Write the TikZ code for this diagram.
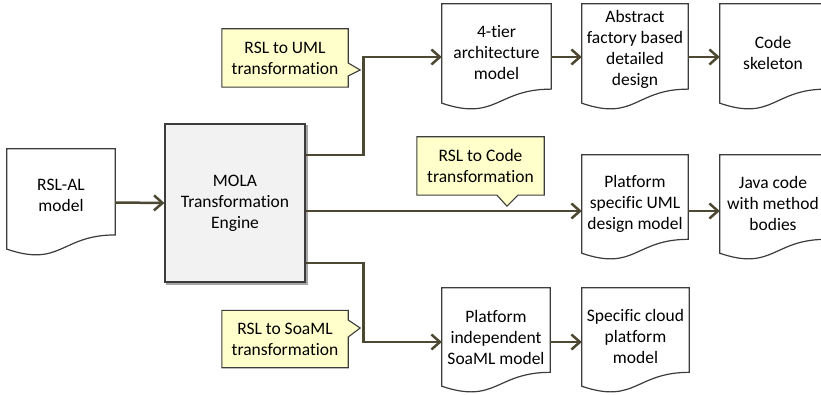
\documentclass[tikz,border=0pt]{standalone}
\usepackage{fontspec}
\setmainfont{Carlito}[Ligatures=NoCommon]
\usetikzlibrary{arrows.meta,calc,backgrounds}
\definecolor{conncol}{HTML}{4D4832}
\definecolor{bordercol}{HTML}{3C3C3C}
\definecolor{shadowcol}{HTML}{A6A6A6}
\definecolor{molafill}{HTML}{F2F2F2}
\definecolor{notefill}{HTML}{FFFFCC}

\newcommand\docpath[1]{let \p1=(#1.north west), \p2=(#1.south east), \n1={\y1-\y2}, \n2={\x2-\x1} in (\x1,\y1) -- (\x2,\y1) -- (\x2,\y1-0.802*\n1) .. controls (\x1+0.5*\n2,\y1-0.802*\n1) and (\x1+0.5*\n2,\y1-1.1075*\n1) .. (\x1,\y1-0.934*\n1) -- cycle}
\newcommand\docdraw[1]{\begin{scope}[on background layer]
  \fill[shadowcol,shift={(2pt,-2pt)}] \docpath{#1};
  \filldraw[fill=white,draw=bordercol,line width=1.2pt] \docpath{#1};
\end{scope}}

\tikzset{
  docnode/.style={inner sep=0pt, draw=none},
  doctext/.style={align=center, inner sep=0pt},
  engine/.style={draw=bordercol, line width=1.2pt, fill=molafill, align=center, inner sep=0pt},
  note/.style={align=center, inner sep=0pt},
  notebox/.style={fill=notefill, draw=bordercol, line width=1.1pt, line join=miter},
  conn/.style={draw=conncol, line width=2.5pt, line join=miter, -{Straight Barb[length=8.5pt,width=15pt]}},
}

\begin{document}
\begin{tikzpicture}[x=1pt,y=-1pt,font=\fontsize{17.5}{21}\selectfont]
\useasboundingbox (0,0) rectangle (821,395);

% documents
\node[docnode, minimum width=108pt, minimum height=107pt,
  label={[doctext,yshift=7pt]center:RSL-AL\\model}] (rsl) at (61,202.5) {};
\node[docnode, minimum width=109pt, minimum height=106pt,
  label={[doctext,yshift=4.5pt]center:4-tier\\architecture\\model}] (d1) at (496.5,57) {};
\node[docnode, minimum width=106pt, minimum height=106pt,
  label={[doctext,yshift=8pt]center:Abstract\\factory based\\detailed\\design}] (d2) at (635,57) {};
\node[docnode, minimum width=106pt, minimum height=106pt,
  label={[doctext,yshift=4.5pt]center:Code\\skeleton}] (d3) at (773,57) {};
\node[docnode, minimum width=106pt, minimum height=105pt,
  label={[doctext,yshift=3.5pt]center:Platform\\specific UML\\design model}] (d4) at (635,207.5) {};
\node[docnode, minimum width=106pt, minimum height=105pt,
  label={[doctext,yshift=4.5pt]center:Java code\\with method\\bodies}] (d5) at (773,207.5) {};
\node[docnode, minimum width=108pt, minimum height=105pt,
  label={[doctext,yshift=3.5pt]center:Platform\\independent\\SoaML model}] (d6) at (496,340.5) {};
\node[docnode, minimum width=107pt, minimum height=105pt,
  label={[doctext,yshift=4pt]center:Specific cloud\\platform\\model}] (d7) at (635.5,340.5) {};

\docdraw{rsl}\docdraw{d1}\docdraw{d2}\docdraw{d3}
\docdraw{d4}\docdraw{d5}\docdraw{d6}\docdraw{d7}

% engine
\node[engine, minimum width=140pt, minimum height=158pt] (mola) at (235,203) {MOLA\\Transformation\\Engine};
\begin{scope}[on background layer]
  \fill[shadowcol] ([shift={(2pt,-2pt)}]mola.south west) rectangle ([shift={(2pt,-2pt)}]mola.north east);
\end{scope}

% callouts
\node[note, minimum width=126pt, minimum height=58pt] (c1) at (285,58) {RSL to UML\\transformation};
\node[note, minimum width=127pt, minimum height=58pt] (c2) at (480.5,166) {RSL to Code\\transformation};
\node[note, minimum width=126pt, minimum height=57pt] (c3) at (285,339) {RSL to SoaML\\transformation};
\begin{scope}[on background layer]
  \filldraw[notebox] (c1.north west) -- (c1.north east) -- ($(c1.east)+(0,5)$) -- ($(c1.east)+(12,12)$) -- ($(c1.east)+(0,18)$) -- (c1.south east) -- (c1.south west) -- cycle;
  \filldraw[notebox] (c2.north west) -- (c2.north east) -- (c2.south east) -- ($(c2.south)+(37.5,0)$) -- ($(c2.south)+(26.5,11)$) -- ($(c2.south)+(16.5,0)$) -- (c2.south west) -- cycle;
  \filldraw[notebox] (c3.north west) -- (c3.north east) -- ($(c3.east)+(0,-19)$) -- ($(c3.east)+(12,-11)$) -- ($(c3.east)+(0,-2)$) -- (c3.south east) -- (c3.south west) -- cycle;
\end{scope}

% connectors
\draw[conn] (rsl.east) -- (mola.west);
\draw[conn] ([yshift=48pt]mola.east) -- ++(58,0) |- (d1.west);
\draw[conn] ([yshift=-8pt]mola.east) -- ([yshift=-3.5pt]d4.west);
\draw[conn] ([yshift=-60pt]mola.east) -- ++(58,0) |- ([yshift=-1.5pt]d6.west);
\draw[conn] (d1.east) -- (d2.west);
\draw[conn] (d2.east) -- (d3.west);
\draw[conn] ([yshift=-3.5pt]d4.east) -- ([yshift=-3.5pt]d5.west);
\draw[conn] ([yshift=-1.5pt]d6.east) -- ([yshift=-1.5pt]d7.west);
\end{tikzpicture}
\end{document}
